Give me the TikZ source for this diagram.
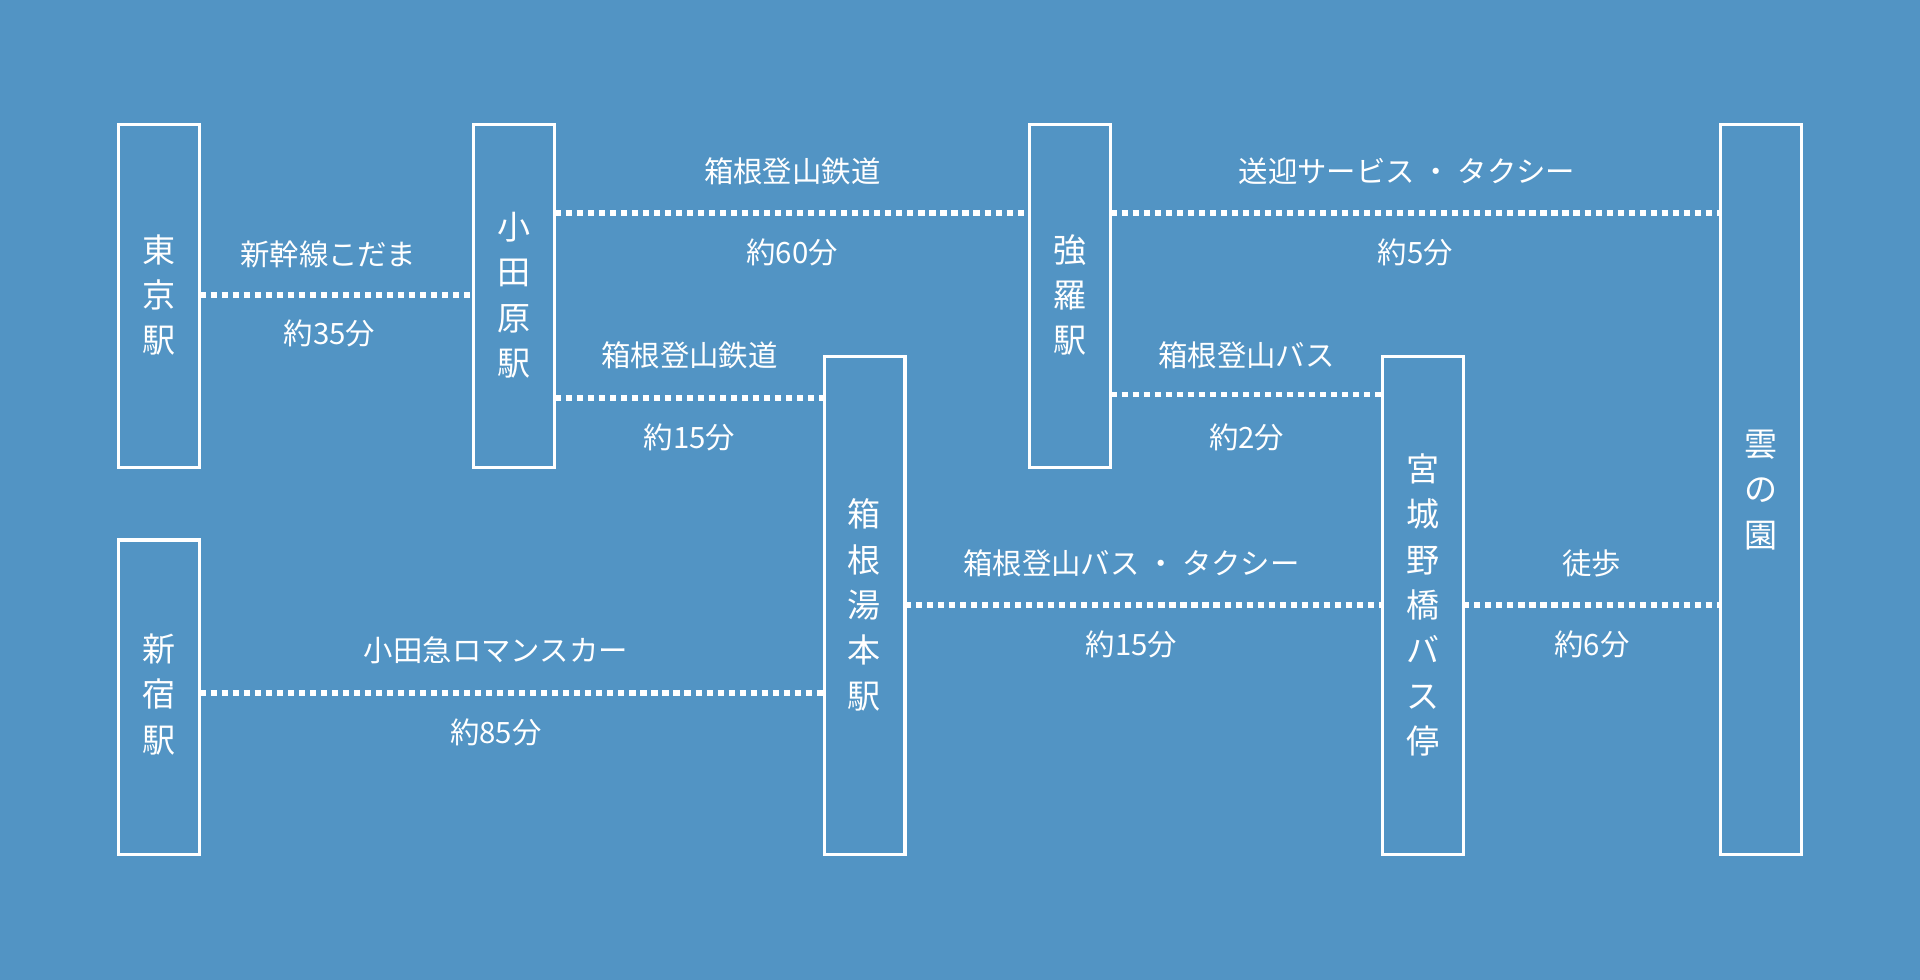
\documentclass[tikz,border=0pt]{standalone}
\usepackage{fontspec}
\newfontfamily\cjk{Noto Sans CJK JP}
\definecolor{bg}{RGB}{82,148,196}
\begin{document}
\begin{tikzpicture}[x=1pt,y=-1pt,
  box/.style={draw=white,line width=2.6pt,inner sep=0pt,outer sep=0pt,anchor=north west},
  st/.style={text=white,font=\cjk\fontsize{27}{37}\selectfont,align=center,inner sep=0pt},
  lbl/.style={text=white,font=\cjk\fontsize{24}{28}\selectfont,inner sep=0pt},
  dots/.style={white,line width=4.5pt,dash pattern=on 5pt off 4pt}]
\fill[bg] (0,0) rectangle (1568,800);
\useasboundingbox (0,0) rectangle (1568,800);
\node[box,minimum width=66pt,minimum height=280pt] (tokyo) at (97,102) {};
\node[box,minimum width=66pt,minimum height=280pt] (odawara) at (387,102) {};
\node[box,minimum width=66pt,minimum height=280pt] (gora) at (841,102) {};
\node[box,minimum width=66pt,minimum height=596pt] (kumo) at (1405,102) {};
\node[box,minimum width=66pt,minimum height=257pt] (shinjuku) at (97,441) {};
\node[box,minimum width=66pt,minimum height=407pt] (yumoto) at (673,291) {};
\node[box,minimum width=66pt,minimum height=407pt] (miyagino) at (1129,291) {};
\node[st] (t1) at (130,241) {東\\京\\駅};
\node[st] (t2) at (420,241) {小\\田\\原\\駅};
\node[st] (t3) at (874,241) {強\\羅\\駅};
\node[st] (t4) at (1438,400) {雲\\の\\園};
\node[st] (t5) at (130,567) {新\\宿\\駅};
\node[st] (t6) at (706,494) {箱\\根\\湯\\本\\駅};
\node[st] (t7) at (1162,494) {宮\\城\\野\\橋\\バ\\ス\\停};
\draw[dots] (tokyo.east |- 0,241) -- (odawara.west |- 0,241);
\draw[dots] (odawara.east |- 0,174) -- (gora.west |- 0,174);
\draw[dots] (gora.east |- 0,174) -- (kumo.west |- 0,174);
\draw[dots] (odawara.east |- 0,325) -- (yumoto.west |- 0,325);
\draw[dots] (gora.east |- 0,322) -- (miyagino.west |- 0,322);
\draw[dots] (shinjuku.east |- 0,566) -- (yumoto.west |- 0,566);
\draw[dots] (yumoto.east |- 0,494) -- (miyagino.west |- 0,494);
\draw[dots] (miyagino.east |- 0,494) -- (kumo.west |- 0,494);
\node[lbl] (l1) at (268,208) {新幹線こだま};
\node[lbl] (l1b) at (269,272) {約35分};
\node[lbl] (l2) at (647,140) {箱根登山鉄道};
\node[lbl] (l2b) at (647,206) {約60分};
\node[lbl] (l3) at (1149,140) {送迎サービス ・ タクシー};
\node[lbl] (l3b) at (1156,206) {約5分};
\node[lbl] (l4) at (563,290) {箱根登山鉄道};
\node[lbl] (l4b) at (563,357) {約15分};
\node[lbl] (l5) at (1018,290) {箱根登山バス};
\node[lbl] (l5b) at (1018,357) {約2分};
\node[lbl] (l6) at (405,531) {小田急ロマンスカー};
\node[lbl] (l6b) at (405,598) {約85分};
\node[lbl] (l7) at (924,460) {箱根登山バス ・ タクシー};
\node[lbl] (l7b) at (924,526) {約15分};
\node[lbl] (l8) at (1300,460) {徒歩};
\node[lbl] (l8b) at (1300,526) {約6分};
\end{tikzpicture}
\end{document}
